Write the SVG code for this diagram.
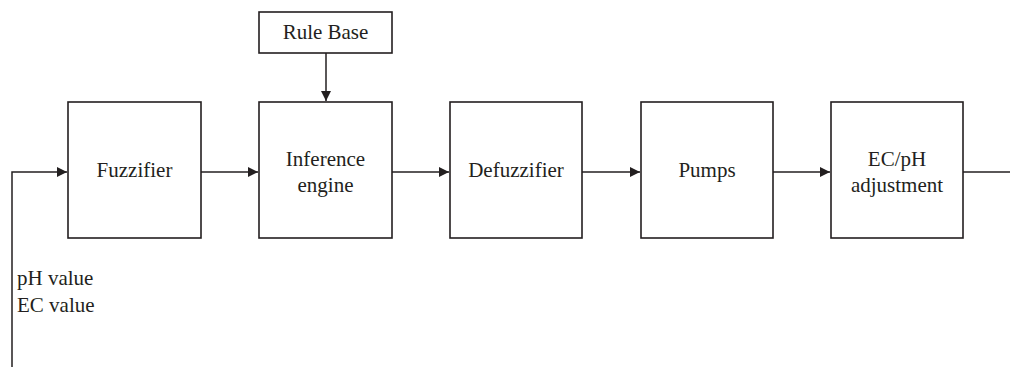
<svg xmlns="http://www.w3.org/2000/svg" width="1010" height="367" viewBox="0 0 1010 367">
<style>
.box{fill:#fff;stroke:#231f20;stroke-width:1.6}
.ln{fill:none;stroke:#231f20;stroke-width:1.5}
.t{font-family:'Liberation Serif','DejaVu Serif',serif;font-size:21px;fill:#231f20}
.c{text-anchor:middle}
</style>
<defs>
<marker id="ah" viewBox="0 0 10 10" refX="10" refY="5" markerWidth="10" markerHeight="10" markerUnits="userSpaceOnUse" orient="auto">
<path d="M0,0 L10,5 L0,10 Z" fill="#231f20"/>
</marker>
</defs>
<g id="connectors">
<path class="ln" d="M12,367 V172 H67" marker-end="url(#ah)"/>
<path class="ln" d="M201,172 H258" marker-end="url(#ah)"/>
<path class="ln" d="M326,53 V101" marker-end="url(#ah)"/>
<path class="ln" d="M392,172 H449" marker-end="url(#ah)"/>
<path class="ln" d="M582,172 H640" marker-end="url(#ah)"/>
<path class="ln" d="M773,172 H830" marker-end="url(#ah)"/>
<path class="ln" d="M963,172 H1010"/>
</g>
<g id="fuzzifier">
<rect class="box" x="68" y="102" width="133" height="136"/>
<text class="t c" x="134.5" y="177">Fuzzifier</text>
</g>
<g id="rulebase">
<rect class="box" x="259" y="12" width="133" height="41"/>
<text class="t c" x="325.5" y="39">Rule Base</text>
</g>
<g id="inference">
<rect class="box" x="259" y="102" width="133" height="136"/>
<text class="t c" x="325.5" y="166">Inference</text>
<text class="t c" x="325.5" y="192">engine</text>
</g>
<g id="defuzzifier">
<rect class="box" x="450" y="102" width="132" height="136"/>
<text class="t c" x="516" y="177">Defuzzifier</text>
</g>
<g id="pumps">
<rect class="box" x="641" y="102" width="132" height="136"/>
<text class="t c" x="707" y="177">Pumps</text>
</g>
<g id="adjustment">
<rect class="box" x="831" y="102" width="132" height="136"/>
<text class="t c" x="897" y="166">EC/pH</text>
<text class="t c" x="897" y="192">adjustment</text>
</g>
<g id="inputs">
<text class="t" x="17" y="285">pH value</text>
<text class="t" x="17" y="312">EC value</text>
</g>
</svg>
